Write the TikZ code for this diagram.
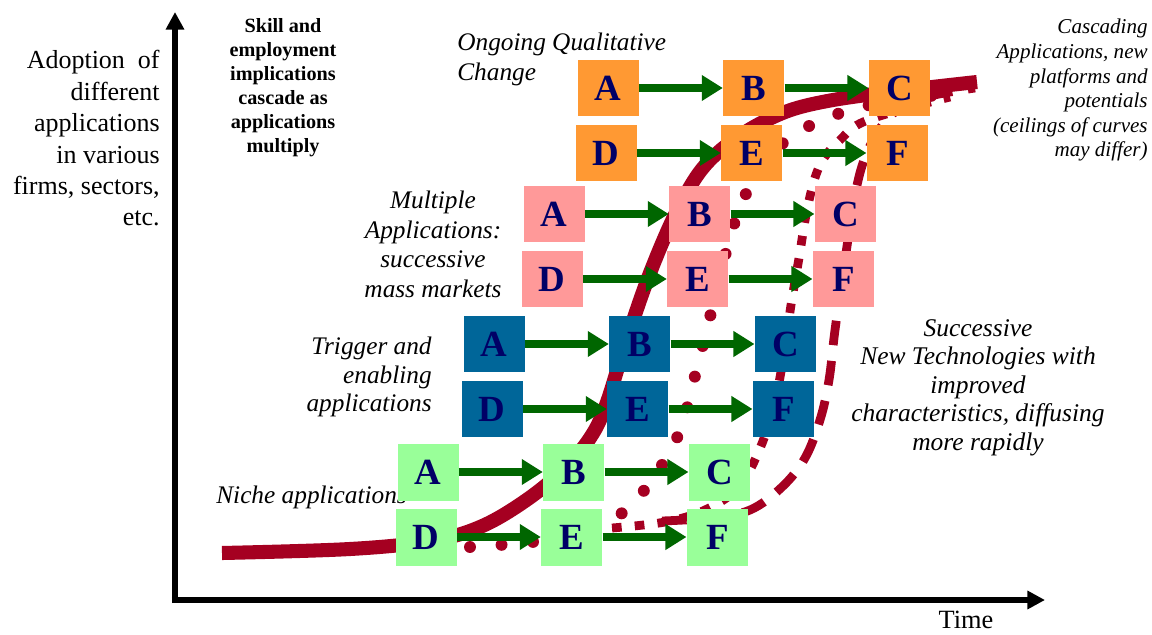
\documentclass[tikz,border=0pt]{standalone}
\usepackage{fontspec}
\setmainfont{Liberation Serif}
\usetikzlibrary{arrows.meta,positioning}
\definecolor{boxorange}{HTML}{FF9933}
\definecolor{boxpink}{HTML}{FF9999}
\definecolor{boxblue}{HTML}{006699}
\definecolor{boxgreen}{HTML}{99FF99}
\definecolor{letterblue}{HTML}{000066}
\definecolor{arrowgreen}{HTML}{006600}
\definecolor{curvered}{HTML}{A50021}

\begin{document}
\begin{tikzpicture}[x=0.02cm,y=-0.02cm,
  cell/.style={
    minimum width=1.22cm,
    minimum height=1.14cm,
    inner sep=0pt,
    text=letterblue,
    font=\fontsize{21}{21}\selectfont\bfseries
  },
  flow/.style={
    draw=arrowgreen,
    line width=4.5pt,
    -{Triangle[length=12pt,width=14pt]}
  },
  axis/.style={
    line width=3.6pt,
    -{Triangle[length=10pt,width=10pt]}
  },
  note/.style={
    inner sep=0pt,
    font=\fontsize{14.4}{16.6}\selectfont\itshape
  },
  node distance=1.68cm]

  \useasboundingbox (0,0) rectangle (1152,635);

  % axes
  \coordinate (origin) at (175,600);
  \coordinate (ytop) at (175,12);
  \coordinate (xend) at (1045,600);
  \draw[axis] ([yshift=-1.8pt]origin) -- (ytop);
  \draw[axis] ([xshift=-1.8pt]origin) -- (xend);

  % labels
  \node[inner sep=0pt,anchor=north east,align=right,
        font=\fontsize{14.8}{17.9}\selectfont] (yaxis) at (160,50)
    {Adoption\hspace{0.5em}of\\ different\\ applications\\ in various\\ firms, sectors,\\ etc.};
  \node[inner sep=0pt,anchor=base,font=\fontsize{15}{18}\selectfont] (xaxis) at (966,628) {Time};
  \node[inner sep=0pt,anchor=north,align=center,
        font=\fontsize{11.5}{13.7}\selectfont\bfseries] (skill) at (283,18)
    {Skill and\\ employment\\ implications\\ cascade as\\ applications\\ multiply};
  \node[note,anchor=north west,align=left] (ongoing) at (457,33)
    {Ongoing Qualitative\\ Change};
  \node[note,anchor=north,align=center,font=\fontsize{14.4}{16.8}\selectfont\itshape] (multiple) at (433,191)
    {Multiple\\ Applications:\\ successive\\ mass markets};
  \node[note,anchor=north east,align=right,font=\fontsize{14.4}{16.2}\selectfont\itshape] (trigger) at (432,337)
    {Trigger and\\ enabling\\ applications};
  \node[note,anchor=base west] (niche) at (216,503) {Niche applications};
  \node[note,anchor=north east,align=right,font=\fontsize{12}{14}\selectfont\itshape] (cascading) at (1148,19)
    {Cascading\\ Applications, new\\ platforms and\\ potentials\\ (ceilings of curves\\ may differ)};
  \node[note,anchor=north,align=center,font=\fontsize{14.5}{16.2}\selectfont\itshape] (successive) at (978,319)
    {Successive\\ New Technologies with\\ improved\\ characteristics, diffusing\\ more rapidly};

  % diffusion curves
  \draw[curvered,line width=8pt] plot[smooth,tension=0.6] coordinates
    {(222,553) (350,549) (430,541) (480,527) (525,501) (563,470) (590,438) (606,405)
     (625,345) (650,273) (680,205) (712,158) (767,120) (833,100) (977,82)};
  \draw[curvered,line width=6.8pt,line cap=round,dash pattern=on 0pt off 18pt] plot[smooth,tension=0.6] coordinates
    {(470,547) (540,541) (600,528) (640,495) (665,460) (682,425) (697,368) (713,305)
     (728,245) (743,200) (768,158) (797,133) (830,117) (870,105) (960,92)};
  \draw[curvered,line width=5pt,dash pattern=on 5.5pt off 7.5pt] plot[smooth,tension=0.6] coordinates
    {(612,528) (665,522) (705,510) (738,488) (758,453) (773,410) (783,360) (791,305)
     (799,258) (808,205) (820,165) (840,140) (868,120) (950,97)};
  \draw[curvered,line width=5pt,dash pattern=on 14pt off 9pt] plot[smooth,tension=0.6] coordinates
    {(662,521) (710,518) (750,510) (782,487) (805,458) (820,420) (829,380) (835,330)
     (845,260) (855,195) (866,155) (885,122) (915,100) (975,88)};

  % application boxes
  \foreach \g/\x/\y/\c in {o/608/88/boxorange, p/554/214/boxpink, b/494/344/boxblue, g/428/472/boxgreen} {
    \node[cell,fill=\c] (\g A) at (\x,\y) {A};
    \node[cell,fill=\c,right=of \g A] (\g B) {B};
    \node[cell,fill=\c,right=of \g B] (\g C) {C};
    \node[cell,fill=\c] (\g D) at (\x-2,\y+65) {D};
    \node[cell,fill=\c,right=of \g D] (\g E) {E};
    \node[cell,fill=\c,right=of \g E] (\g F) {F};
    \draw[flow] (\g A) -- (\g B);
    \draw[flow] (\g B) -- (\g C);
    \draw[flow] (\g D) -- (\g E);
    \draw[flow] (\g E) -- (\g F);
  }
\end{tikzpicture}
\end{document}
